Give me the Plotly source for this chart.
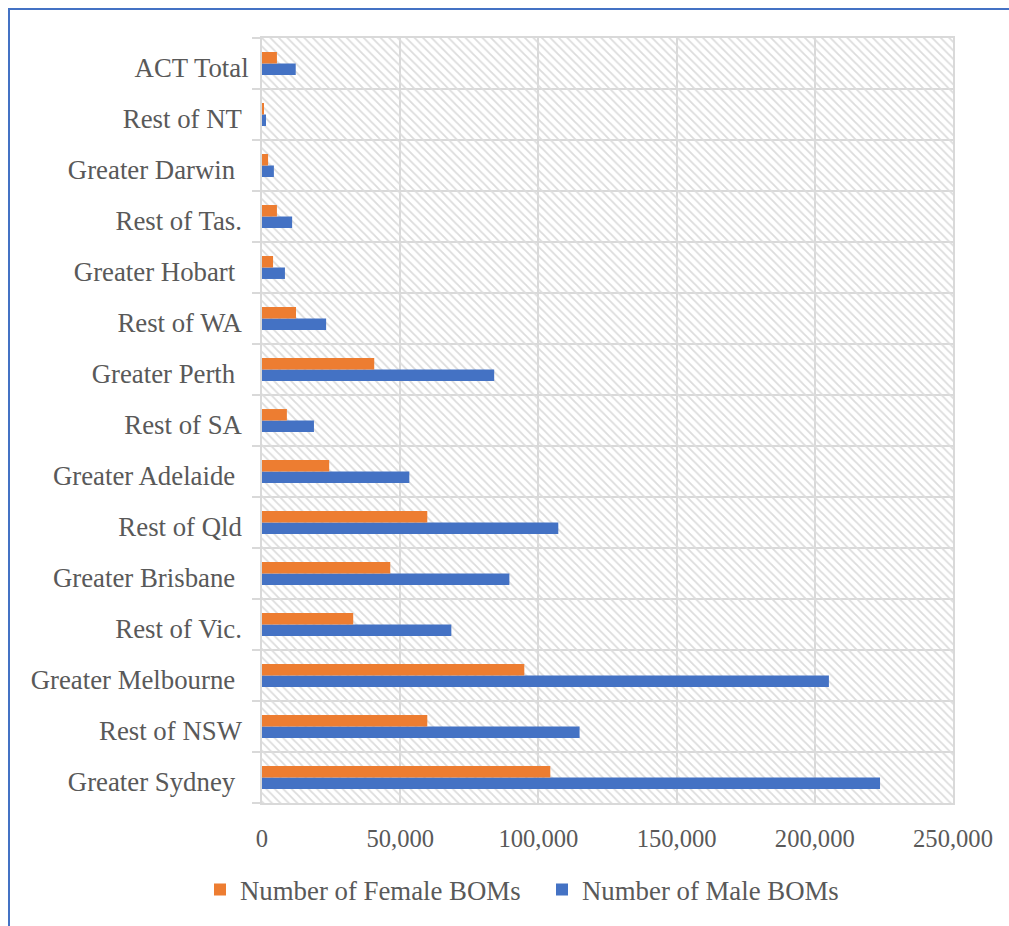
import plotly.graph_objects as go

categories = ["Greater Sydney", "Rest of NSW", "Greater Melbourne", "Rest of Vic.",
              "Greater Brisbane", "Rest of Qld", "Greater Adelaide", "Rest of SA",
              "Greater Perth", "Rest of WA", "Greater Hobart", "Rest of Tas.",
              "Greater Darwin", "Rest of NT", "ACT Total"]
tick_labels = ["Greater Sydney\u00a0\u00a0", "Rest of NSW\u00a0", "Greater Melbourne\u00a0\u00a0",
               "Rest of Vic.\u00a0", "Greater Brisbane\u00a0\u00a0", "Rest of Qld\u00a0",
               "Greater Adelaide\u00a0\u00a0", "Rest of SA\u00a0", "Greater Perth\u00a0\u00a0",
               "Rest of WA\u00a0", "Greater Hobart\u00a0\u00a0", "Rest of Tas.\u00a0",
               "Greater Darwin\u00a0\u00a0", "Rest of NT\u00a0", "ACT Total"]
female = [104300, 59800, 94900, 33000, 46400, 59800, 24300, 9000,
          40600, 12300, 4000, 5400, 2200, 700, 5400]
male = [223600, 114900, 205100, 68500, 89500, 107200, 53300, 18800,
        84000, 23200, 8300, 10900, 4300, 1450, 12200]
x_ticks = [0, 50000, 100000, 150000, 200000, 250000]

W, H = 1009, 926
L, R, T, B = 262, 953, 38, 803

fig = go.Figure()

# hatched plot-area background (on base axes, drawn beneath the data subplot)
fig.add_trace(go.Bar(
    x=[1], y=[0], orientation="h", width=1, base=0,
    xaxis="x", yaxis="y", showlegend=False, hoverinfo="skip",
    marker=dict(color="#dcdcdc", line=dict(width=0),
                pattern=dict(shape="\\", size=6, solidity=0.3,
                             fillmode="replace", bgcolor="rgba(0,0,0,0)")),
))

fig.add_trace(go.Bar(
    name="Number of Male BOMs", y=categories, x=male, orientation="h",
    xaxis="x2", yaxis="y2", marker=dict(color="#4472C4", line=dict(width=0)),
))
fig.add_trace(go.Bar(
    name="Number of Female BOMs", y=categories, x=female, orientation="h",
    xaxis="x2", yaxis="y2", marker=dict(color="#ED7D31", line=dict(width=0)),
))

grid = "#d9d9d9"
txt = "#595959"
fig.update_layout(
    width=W, height=H,
    margin=dict(l=L, r=W - R, t=T, b=H - B, autoexpand=False),
    paper_bgcolor="white", plot_bgcolor="white",
    barmode="group", bargap=0.55, bargroupgap=0,
    font=dict(family="Liberation Serif, Times New Roman, serif", color=txt),
    xaxis=dict(range=[0, 1], visible=False, fixedrange=True, automargin=False),
    yaxis=dict(range=[-0.5, 0.5], visible=False, fixedrange=True, automargin=False),
    xaxis2=dict(overlaying="x", range=[0, 250000], tickvals=x_ticks,
                tickformat=",", showgrid=True, gridcolor=grid, gridwidth=2,
                zeroline=False, showline=True, linecolor=grid, linewidth=2,
                mirror=True, ticks="", ticklabelstandoff=12, automargin=False,
                tickfont=dict(size=24.6, color=txt)),
    yaxis2=dict(overlaying="y", type="category", categoryorder="array",
                categoryarray=categories, tickvals=categories, ticktext=tick_labels,
                tickson="boundaries", showgrid=True, gridcolor=grid, gridwidth=2,
                showline=True, linecolor=grid, linewidth=2, mirror=True,
                ticks="outside", ticklen=8, tickcolor=grid, tickwidth=2,
                ticklabelstandoff=6, ticklabelshift=4, automargin=False,
                tickfont=dict(size=26.8, color=txt)),
    legend=dict(orientation="h", traceorder="reversed",
                xref="container", yref="container",
                x=200 / W, xanchor="left", y=1 - 889.5 / H, yanchor="middle",
                entrywidth=297, entrywidthmode="pixels",
                font=dict(size=26.8, color=txt), bgcolor="rgba(0,0,0,0)"),
    shapes=[dict(type="rect", xref="paper", yref="paper",
                 x0=(9 - L) / (R - L), x1=(1030 - L) / (R - L),
                 y0=(B - 950) / (B - T), y1=(B - 9) / (B - T),
                 line=dict(color="#4472C4", width=2), fillcolor="rgba(0,0,0,0)",
                 layer="above")],
)

fig.write_html("out.html")
